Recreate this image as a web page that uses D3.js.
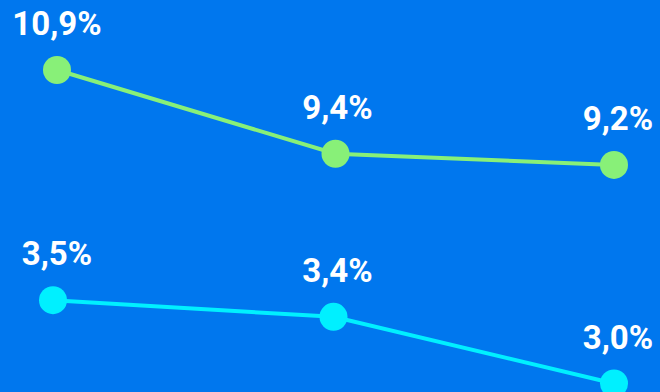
<!DOCTYPE html>
<html>
<head>
<meta charset="utf-8">
<script src="https://cdn.jsdelivr.net/npm/d3@7"></script>
<style>
  html, body { margin: 0; padding: 0; background: #0077ee; }
  svg { display: block; }
</style>
</head>
<body>
<svg id="chart" width="660" height="392"></svg>
<script>
// Three periods, two rates (percent)
const categories = ["A", "B", "C"];
const upperValues = [10.9, 9.4, 9.2];
const lowerValues = [3.5, 3.4, 3.0];

const W = 660, H = 392;
const svg = d3.select("#chart");

svg.append("rect").attr("width", W).attr("height", H).attr("fill", "#0077ee");

const fmt = v => d3.format(".1f")(v).replace(".", ",") + "%";

// Label columns shared by both series
const xLabel = d3.scalePoint().domain(categories).range([57, 618]);

const series = [
  {
    values: upperValues, color: "#88f078",
    x: d3.scalePoint().domain(categories).range([57, 614]),
    y: d3.scaleLinear().domain([9.2, 10.9]).range([164.9, 70.0])
  },
  {
    values: lowerValues, color: "#00f0ff",
    x: d3.scalePoint().domain(categories).range([53, 614]),
    y: d3.scaleLinear().domain([3.0, 3.5]).range([383.5, 300.2])
  }
];

series.forEach(s => {
  const pts = categories.map((c, i) => ({ c, v: s.values[i] }));
  const g = svg.append("g");

  g.append("path")
    .datum(pts)
    .attr("fill", "none")
    .attr("stroke", s.color)
    .attr("stroke-width", 4)
    .attr("d", d3.line().x(d => s.x(d.c)).y(d => s.y(d.v)));

  g.selectAll("circle").data(pts).join("circle")
    .attr("cx", d => s.x(d.c))
    .attr("cy", d => s.y(d.v))
    .attr("r", 14)
    .attr("fill", s.color);

  g.selectAll("text").data(pts).join("text")
    .attr("x", d => Math.min(xLabel(d.c), W - 40))
    .attr("y", d => s.y(d.v) - 35)
    .attr("text-anchor", "middle")
    .attr("fill", "#ffffff")
    .attr("font-family", "Roboto, sans-serif")
    .attr("font-weight", 700)
    .attr("font-size", 33)
    .text(d => fmt(d.v));
});
</script>
</body>
</html>
